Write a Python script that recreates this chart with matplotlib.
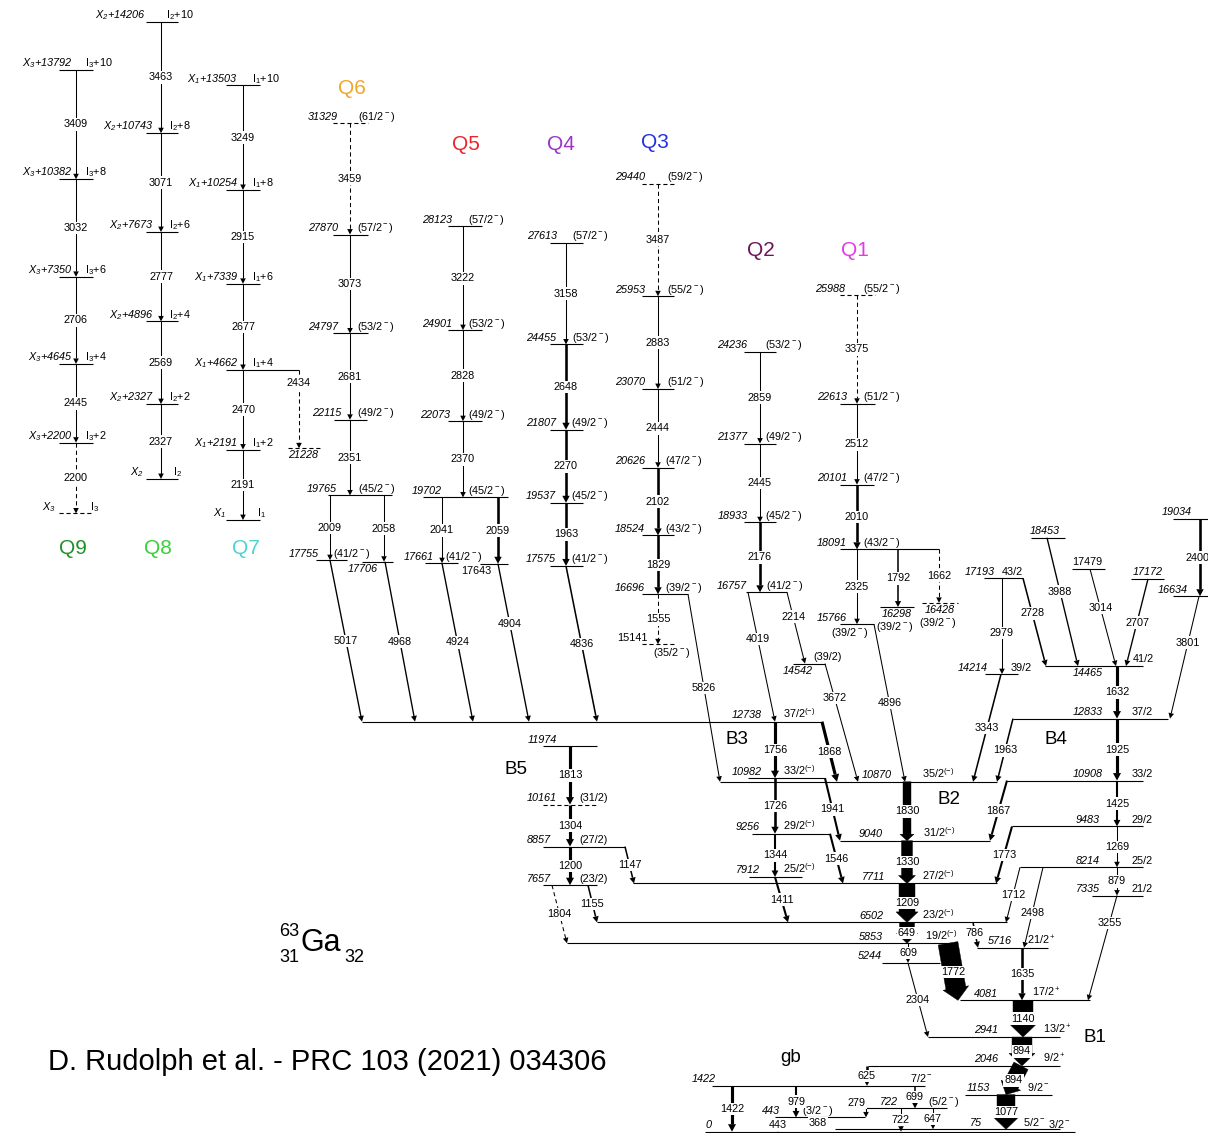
import matplotlib
matplotlib.use('Agg')

import numpy as np
from matplotlib import pyplot as plt
from matplotlib.patches import Polygon

plt.rcParams['font.family'] = ['Liberation Sans', 'DejaVu Sans']
plt.rcParams['mathtext.fontset'] = 'custom'
plt.rcParams['mathtext.rm'] = 'Liberation Sans'
plt.rcParams['mathtext.it'] = 'Liberation Sans:italic'
plt.rcParams['mathtext.bf'] = 'Liberation Sans:bold'
plt.rcParams['lines.scale_dashes'] = False

W, H = 1208, 1133
K = 0.03219     # pixels per keV along the energy axis
Y0 = 1131.7     # pixel row of the ground state
FS = 7.8

# ---------------- bands built on the unknown band heads X1, X2, X3 ----------------
X_BASE = {'1': 19000, '2': 20275, '3': 19205}
Q9_E = [0, 2200, 4645, 7350, 10382, 13792]
Q9_G = [2200, 2445, 2706, 3032, 3409]
Q8_E = [0, 2327, 4896, 7673, 10743, 14206]
Q8_G = [2327, 2569, 2777, 3071, 3463]
Q7_E = [0, 2191, 4662, 7339, 10254, 13503]
Q7_G = [2191, 2470, 2677, 2915, 3249]
I_STEP = ['', '+2', '+4', '+6', '+8', '+10']
Q7_OUT = (4662, 21228, 2434)   # X1+4662 -> 21228

# ---------------- level energies (keV) and spins ----------------
LEVELS = {
    # Q6
    31329: '(61/2$^-$)', 27870: '(57/2$^-$)', 24797: '(53/2$^-$)', 22115: '(49/2$^-$)',
    19765: '(45/2$^-$)', 17755: '(41/2$^-$)', 17706: '', 21228: '',
    # Q5
    28123: '(57/2$^-$)', 24901: '(53/2$^-$)', 22073: '(49/2$^-$)', 19702: '(45/2$^-$)',
    17661: '(41/2$^-$)', 17643: '',
    # Q4
    27613: '(57/2$^-$)', 24455: '(53/2$^-$)', 21807: '(49/2$^-$)', 19537: '(45/2$^-$)',
    17575: '(41/2$^-$)',
    # Q3
    29440: '(59/2$^-$)', 25953: '(55/2$^-$)', 23070: '(51/2$^-$)', 20626: '(47/2$^-$)',
    18524: '(43/2$^-$)', 16696: '(39/2$^-$)', 15141: '(35/2$^-$)',
    # Q2
    24236: '(53/2$^-$)', 21377: '(49/2$^-$)', 18933: '(45/2$^-$)', 16757: '(41/2$^-$)',
    14542: '(39/2)',
    # Q1
    25988: '(55/2$^-$)', 22613: '(51/2$^-$)', 20101: '(47/2$^-$)', 18091: '(43/2$^-$)',
    15766: '(39/2$^-$)', 16298: '(39/2$^-$)', 16428: '(39/2$^-$)',
    # B4 and feeders
    19034: '', 16634: '', 18453: '', 17479: '', 17172: '', 17193: '43/2', 14214: '39/2',
    14465: '41/2', 12833: '37/2', 10908: '33/2', 9483: '29/2', 8214: '25/2', 7335: '21/2',
    # B3
    12738: '37/2$^{(-)}$', 10982: '33/2$^{(-)}$', 9256: '29/2$^{(-)}$', 7912: '25/2$^{(-)}$',
    # B5
    11974: '', 10161: '(31/2)', 8857: '(27/2)', 7657: '(23/2)',
    # B2
    10870: '35/2$^{(-)}$', 9040: '31/2$^{(-)}$', 7711: '27/2$^{(-)}$', 6502: '23/2$^{(-)}$',
    5853: '19/2$^{(-)}$', 5244: '',
    # B1
    5716: '21/2$^+$', 4081: '17/2$^+$', 2941: '13/2$^+$', 2046: '9/2$^+$',
    # low-lying states
    1422: '7/2$^-$', 1153: '9/2$^-$', 722: '(5/2$^-$)', 443: '(3/2$^-$)',
    75: '5/2$^-$', 0: '3/2$^-$',
}

# transitions: (initial level, final level, gamma energy)
GAMMAS = [
    (31329, 27870, 3459), (27870, 24797, 3073), (24797, 22115, 2681), (22115, 19765, 2351),
    (19765, 17755, 2009), (19765, 17706, 2058), (17755, 12738, 5017), (17706, 12738, 4968),
    (28123, 24901, 3222), (24901, 22073, 2828), (22073, 19702, 2370), (19702, 17661, 2041),
    (19702, 17643, 2059), (17661, 12738, 4924), (17643, 12738, 4904),
    (27613, 24455, 3158), (24455, 21807, 2648), (21807, 19537, 2270), (19537, 17575, 1963),
    (17575, 12738, 4836),
    (29440, 25953, 3487), (25953, 23070, 2883), (23070, 20626, 2444), (20626, 18524, 2102),
    (18524, 16696, 1829), (16696, 15141, 1555), (16696, 10870, 5826),
    (24236, 21377, 2859), (21377, 18933, 2445), (18933, 16757, 2176), (16757, 12738, 4019),
    (16757, 14542, 2214), (14542, 10870, 3672),
    (25988, 22613, 3375), (22613, 20101, 2512), (20101, 18091, 2010), (18091, 15766, 2325),
    (18091, 16298, 1792), (18091, 16428, 1662), (15766, 10870, 4896),
    (19034, 16634, 2400), (16634, 12833, 3801), (18453, 14465, 3988), (17479, 14465, 3014),
    (17172, 14465, 2707), (17193, 14465, 2728), (17193, 14214, 2979), (14214, 10870, 3343),
    (14465, 12833, 1632), (12833, 10908, 1925), (10908, 9483, 1425), (9483, 8214, 1269),
    (8214, 7335, 879), (7335, 4081, 3255), (12833, 10870, 1963), (10908, 9040, 1867),
    (9483, 7711, 1773), (8214, 6502, 1712), (8214, 5716, 2498),
    (12738, 10982, 1756), (10982, 9256, 1726), (9256, 7912, 1344), (7912, 6502, 1411),
    (12738, 10870, 1868), (10982, 9040, 1941), (9256, 7711, 1546),
    (11974, 10161, 1813), (10161, 8857, 1304), (8857, 7657, 1200), (8857, 7711, 1147),
    (7657, 6502, 1155), (7657, 5853, 1804),
    (10870, 9040, 1830), (9040, 7711, 1330), (7711, 6502, 1209), (6502, 5853, 649),
    (5853, 5244, 609), (5244, 2941, 2304), (5853, 4081, 1772),
    (6502, 5716, 786), (5716, 4081, 1635), (4081, 2941, 1140), (2941, 2046, 894),
    (2046, 1153, 894), (1153, 75, 1077),
    (2046, 1422, 625), (1422, 0, 1422), (1422, 443, 979), (1422, 722, 699),
    (722, 443, 279), (443, 0, 443), (443, 75, 368), (722, 0, 722), (722, 75, 647),
]

BAND_NAMES = ['Q6', 'Q5', 'Q4', 'Q3', 'Q2', 'Q1', 'Q9', 'Q8', 'Q7']
BAND_COLORS = ['#f4a52c', '#e8262b', '#9a35c9', '#2233dd', '#6e1459', '#e23ae6',
               '#1f8f2a', '#38cf38', '#4dd4cf']
STRUCT_NAMES = ['B5', 'B3', 'B2', 'B4', 'B1', 'gb']

# ---------------- drawing layout (pixels) ----------------
# level: x0, x1, energy-label anchor, spin anchor, flags
#   d dashed, b energy label below, u upright label, s spin below
LEVEL_POS = {
    31329: (333, 368, 338, 358, 'd'), 27870: (333, 368, 338, 357, ''),
    24797: (333, 368, 338, 357, ''), 22115: (334, 367, 341, 357, ''),
    19765: (328, 392, 337, 358, ''), 17755: (316, 347, 319, 333, ''),
    17706: (362, 393, 363, 0, 'b'), 21228: (288, 322, 303, 0, 'bd'),
    28123: (448, 482, 452, 468, ''), 24901: (448, 482, 452, 468, ''),
    22073: (448, 482, 450, 468, ''), 19702: (423, 508, 442, 468, ''),
    17661: (425, 458, 434, 445, ''), 17643: (480, 508, 476, 0, 'bu'),
    27613: (550, 583, 557, 572, ''), 24455: (550, 583, 556, 572, ''),
    21807: (550, 583, 556, 571, ''), 19537: (550, 583, 556, 571, ''),
    17575: (550, 583, 556, 571, ''),
    29440: (642, 674, 645, 667, 'd'), 25953: (642, 674, 645, 667, ''),
    23070: (642, 674, 645, 667, ''), 20626: (642, 674, 645, 665, ''),
    18524: (642, 674, 645, 665, ''), 16696: (642, 688, 645, 665, ''),
    15141: (642, 675, 648, 672, 'dus'),
    24236: (744, 776, 747, 765, ''), 21377: (744, 776, 747, 765, ''),
    18933: (744, 776, 748, 765, ''), 16757: (746, 787, 747, 766, ''),
    14542: (793, 825, 798, 813, 'b'),
    25988: (840, 875, 845, 863, 'd'), 22613: (840, 875, 847, 863, ''),
    20101: (840, 874, 847, 863, ''), 18091: (840, 939, 847, 863, ''),
    15766: (840, 874, 847, 850, 's'), 16298: (880, 914, 897, 895, 'bs'),
    16428: (922, 958, 940, 938, 'bsd'),
    19034: (1173, 1208, 1192, 0, ''), 16634: (1173, 1208, 1188, 0, ''),
    18453: (1031, 1065, 1060, 0, ''), 17479: (1072, 1105, 1102, 0, 'u'),
    17172: (1131, 1164, 1163, 0, ''), 17193: (984, 1023, 995, 1002, ''),
    14214: (985, 1018, 988, 1011, ''), 14465: (1045, 1143, 1088, 1133, 'b'),
    12833: (1013, 1168, 1103, 1132, ''), 10908: (1007, 1143, 1103, 1132, ''),
    9483: (1012, 1143, 1100, 1132, ''), 8214: (1020, 1143, 1100, 1132, ''),
    7335: (1092, 1143, 1100, 1132, ''),
    12738: (362, 822, 762, 783, ''), 10982: (748, 825, 762, 783, ''),
    9256: (752, 830, 760, 783, ''), 7912: (749, 802, 760, 783, ''),
    11974: (543, 597, 557, 0, ''), 10161: (543, 597, 557, 579, 'd'),
    8857: (543, 625, 551, 579, ''), 7657: (543, 597, 551, 579, ''),
    10870: (720, 997, 892, 922, ''), 9040: (840, 990, 883, 923, ''),
    7711: (633, 997, 885, 922, ''), 6502: (597, 1007, 883, 922, ''),
    5853: (567, 953, 883, 925, ''), 5244: (882, 940, 882, 0, ''),
    5716: (977, 1048, 1012, 1027, ''), 4081: (960, 1090, 998, 1032, ''),
    2941: (928, 1060, 998, 1043, ''), 2046: (868, 1060, 998, 1043, ''),
    1422: (712, 925, 716, 910, ''), 1153: (965, 1052, 990, 1027, ''),
    722: (862, 947, 898, 928, ''), 443: (775, 865, 780, 802, ''),
    75: (835, 1060, 982, 1023, ''), 0: (705, 1075, 712, 1048, ''),
}

# transition: x start, x end, width, flags, label position along the arrow, label x shift
GAMMA_POS = [
    (350, 350, 1, 'd', .5), (350, 350, 1, '', .5), (350, 350, 1, '', .5), (350, 350, 1, '', .5),
    (330, 330, 1, '', .5), (384, 384, 1, '', .5), (330, 362, 1.3, '', .5), (385, 415, 1.3, '', .5),
    (463, 463, 1, '', .5), (463, 463, 1, '', .5), (463, 463, 1, '', .5), (442, 442, 1, '', .5),
    (498, 498, 2.5, '', .5), (442, 473, 1.3, '', .5), (498, 529, 1.3, '', .38),
    (566, 566, 1, '', .5), (566, 566, 2.5, '', .5), (566, 566, 2.5, '', .5), (566, 566, 2.5, '', .5),
    (566, 597, 1.5, '', .5),
    (658, 658, 1, 'd', .5), (658, 658, 1, '', .5), (658, 658, 1, '', .5), (658, 658, 2.5, '', .5),
    (658, 658, 2.5, '', .5), (658, 658, 1, 'd', .5), (688, 720, 1, '', .5),
    (760, 760, 1, '', .5), (760, 760, 1, '', .5), (760, 760, 2.5, '', .5), (748, 775, 1, '', .36),
    (787, 805, 1, '', .34), (825, 858, 1, '', .29),
    (857, 857, 1, 'd', .5), (857, 857, 1, '', .5), (857, 857, 2.5, '', .5), (857, 857, 1, '', .5),
    (898, 898, 1.5, '', .5), (939, 939, 1, 'd', .5), (874, 905, 1, '', .5),
    (1200, 1200, 2.5, '', .5, -3), (1199, 1170, 1, '', .38), (1047, 1078, 1.3, '', .42),
    (1090, 1116, 1, '', .40), (1148, 1126, 1.3, '', .5), (1023, 1046, 1.5, '', .4),
    (1002, 1002, 1, '', .57), (1001, 973, 1.5, '', .5),
    (1117, 1117, 3, '', .5), (1117, 1117, 3, '', .5), (1117, 1117, 2, '', .5), (1117, 1117, 1, '', .5),
    (1117, 1117, 1, '', .5), (1117, 1088, 1, '', .26), (1013, 997, 1.5, '', .5), (1007, 990, 2, '', .5),
    (1012, 996, 2, '', .5), (1020, 1006, 1, '', .5), (1043, 1024, 1, '', .57),
    (775, 775, 3, '', .5), (775, 775, 2.5, '', .5), (775, 775, 2, '', .5), (775, 788, 2, '', .5),
    (822, 837, 3, '', .5), (825, 840, 2, '', .5), (830, 843, 2, '', .5),
    (570, 570, 3, '', .5), (570, 570, 3, '', .5), (570, 570, 3, '', .5), (625, 634, 1.5, '', .5),
    (588, 597, 1.5, '', .5), (552, 567, 1, 'd', .5),
    (907, 907, 8, '', .5), (907, 907, 11, '', .5), (907, 907, 16, '', .5), (907, 907, 15, '', .5),
    (908, 908, 1, '', .5), (908, 928, 1, '', .5), (948, 958, 20, '', .5),
    (973, 978, 1.5, '', .4), (1022, 1022, 2.5, '', .5), (1023, 1023, 20, '', .5),
    (1022, 1022, 20, '', .5), (1021, 1006, 16, '', .5), (1006, 1006, 18, '', .5),
    (867, 867, 2.5, '', .5), (732, 732, 3, '', .5), (796, 796, 2, '', .5), (915, 915, 1.5, '', .5),
    (866, 866, 1, '', -0.6, -9), (778, 778, 1, '', .5), (818, 818, 1, '', .5),
    (901, 901, 1, '', .5), (933, 933, 1, '', .5),
]

# x0, x1, transition x, label anchor, spin anchor
X_POS = {'3': (59, 93, 76, 73, 85), '2': (146, 178, 161, 154, 169), '1': (226, 260, 243, 238, 252)}
X_BOTTOM = {'3': (56, 90, 'd'), '2': (144, 173, ''), '1': (226, 257, '')}

BAND_NAME_POS = [(352, 88), (466, 144), (561, 144), (655, 143), (761, 250), (855, 250),
                 (73, 548), (158, 548), (246, 548)]
STRUCT_POS = [(516, 769), (737, 739), (949, 800), (1056, 739), (1095, 1038), (791, 1057)]


def px2e(ypx):
    return (Y0 - ypx) / K


def draw_level(ax, e, lab, spin, x0, x1, xl, xs, flags=''):
    ls = (0, (3.0, 2.0)) if 'd' in flags else '-'
    ax.plot([x0, x1], [e, e], color='k', lw=0.8, ls=ls, solid_capstyle='butt', zorder=2)
    up = 3.6 / K
    style = 'normal' if 'u' in flags else 'italic'
    if 'b' in flags:
        ax.text(xl, e - 2.0 / K, lab, ha='center', va='top', fontsize=FS, style=style)
    else:
        ax.text(xl, e + up, lab, ha='right', va='baseline', fontsize=FS, style=style)
    if spin:
        if 's' in flags:
            drop = 13.0 if 'b' in flags else 2.0
            ax.text(xs, e - drop / K, spin, ha='center', va='top', fontsize=FS)
        else:
            ax.text(xs, e + up, spin, ha='left', va='baseline', fontsize=FS)


def draw_gamma(ax, ea, eb, egam, xa, xb, w=1.0, flags='', frac=0.5, ldx=0.0):
    # geometry in pixel units (y upwards), converted back to keV for plotting
    ya, yb = ea * K, eb * K
    dx, dy = xb - xa, yb - ya
    L = np.hypot(dx, dy)
    ux, uy = dx / L, dy / L
    nx, ny = -uy, ux
    if w > 3:
        hl, hw = 0.5 * w + 2.5, 0.5 * w + 3.0
    else:
        hl, hw = 4.5 + w, 2.2 + 0.6 * w
    hl = min(hl, 0.7 * L)
    bx, by = xb - ux * hl, yb - uy * hl
    if w > 3:
        h = 0.5 * w
        pts = [(xa + nx * h, ya + ny * h), (bx + nx * h, by + ny * h), (bx + nx * hw, by + ny * hw),
               (xb, yb), (bx - nx * hw, by - ny * hw), (bx - nx * h, by - ny * h),
               (xa - nx * h, ya - ny * h)]
        ax.add_patch(Polygon([(p, q / K) for p, q in pts], closed=True, fc='k', ec='k',
                             lw=0.3, zorder=3))
    else:
        ls = (0, (3.0, 2.2)) if 'd' in flags else '-'
        ax.plot([xa, bx], [ea, by / K], color='k', lw=0.75 * w, ls=ls,
                solid_capstyle='butt', zorder=3)
        head = [(bx + nx * hw, by + ny * hw), (xb, yb), (bx - nx * hw, by - ny * hw)]
        ax.add_patch(Polygon([(p, q / K) for p, q in head], closed=True, fc='k', ec='none',
                             zorder=3))
    ax.text(xa + frac * dx + ldx, (ya + frac * dy) / K, str(egam), ha='center', va='center',
            fontsize=FS, zorder=5, bbox=dict(boxstyle='square,pad=0.12', fc='white', ec='none'))


fig = plt.figure(figsize=(W / 100, H / 100), dpi=100)
ax = fig.add_axes([0, 0, 1, 1])
ax.set_xlim(0, W)
ax.set_ylim(px2e(H), px2e(0))
ax.axis('off')

# X-based bands Q9, Q8, Q7
for n, rel, gam in [('3', Q9_E, Q9_G), ('2', Q8_E, Q8_G), ('1', Q7_E, Q7_G)]:
    x0, x1, xv, xl, xs = X_POS[n]
    base = X_BASE[n]
    for i, r in enumerate(rel):
        e = base + r
        if r == 0:
            bl, bs, fl = X_BOTTOM[n]
            draw_level(ax, e, 'X$_\\mathregular{%s}$' % n, 'I$_\\mathregular{%s}$' % n,
                       x0, x1, bl, bs, fl)
            continue
        lab = 'X$_\\mathregular{%s}$+%d' % (n, r)
        spin = 'I$_\\mathregular{%s}$%s' % (n, I_STEP[i])
        right = 299 if (n == '1' and r == Q7_OUT[0]) else x1
        la, sa = (146, 166) if (n == '2' and i == len(rel) - 1) else (xl, xs)
        draw_level(ax, e, lab, spin, x0, right, la, sa)
    for i, g in enumerate(gam):
        fl = X_BOTTOM[n][2] if i == 0 else ''
        draw_gamma(ax, base + rel[i + 1], base + rel[i], g, xv, xv, 1, fl)

draw_gamma(ax, X_BASE['1'] + Q7_OUT[0], Q7_OUT[1], Q7_OUT[2], 299, 299, 1, 'd', 0.17)

for e, spin in LEVELS.items():
    x0, x1, xl, xs, fl = LEVEL_POS[e]
    draw_level(ax, e, str(e), spin, x0, x1, xl, xs, fl)

for (ea, eb, g), pos in zip(GAMMAS, GAMMA_POS):
    xa, xb, w, fl, frac = pos[:5]
    ldx = pos[5] if len(pos) > 5 else 0.0
    draw_gamma(ax, ea, eb, g, xa, xb, w, fl, frac, ldx)

for name, col, (x, y) in zip(BAND_NAMES, BAND_COLORS, BAND_NAME_POS):
    ax.text(x, px2e(y), name, color=col, fontsize=15, ha='center', va='center')
for name, (x, y) in zip(STRUCT_NAMES, STRUCT_POS):
    ax.text(x, px2e(y), name, fontsize=13.5, ha='center', va='center')

ax.text(289, px2e(932), '63', fontsize=13, ha='center', va='center')
ax.text(289, px2e(957), '31', fontsize=13, ha='center', va='center')
ax.text(321, px2e(943), 'Ga', fontsize=22, ha='center', va='center')
ax.text(354, px2e(958), '32', fontsize=13, ha='center', va='center')
ax.text(48, px2e(1062), 'D. Rudolph et al. - PRC 103 (2021) 034306', fontsize=21,
        ha='left', va='center')

fig.savefig('out.png', dpi=100)
